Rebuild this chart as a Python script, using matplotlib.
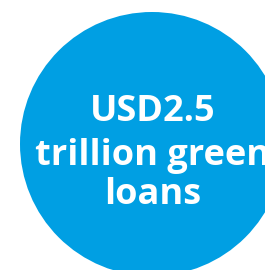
"""Blue circle callout: USD2.5 trillion green loans."""
import matplotlib
matplotlib.use("Agg")
import matplotlib.pyplot as plt
from matplotlib.patches import Circle

# text lines inside the circle
lines = ["USD2.5", "trillion green", "loans"]

BLUE = "#009fe3"


def main() -> None:
    fig = plt.figure(figsize=(2.65, 2.70), dpi=100)
    ax = fig.add_axes([0, 0, 1, 1])
    ax.set_xlim(0, 265)
    ax.set_ylim(270, 0)
    ax.set_aspect("equal")
    ax.axis("off")

    ax.add_patch(Circle((152, 144), 132, color=BLUE, lw=0))

    baselines = [121, 165, 204]
    for txt, yb in zip(lines, baselines):
        ax.text(153, yb, txt, ha="center", va="baseline", color="white",
                fontsize=26, fontweight="bold", family="Open Sans")

    fig.savefig("out.png", dpi=100)


if __name__ == "__main__":
    main()
